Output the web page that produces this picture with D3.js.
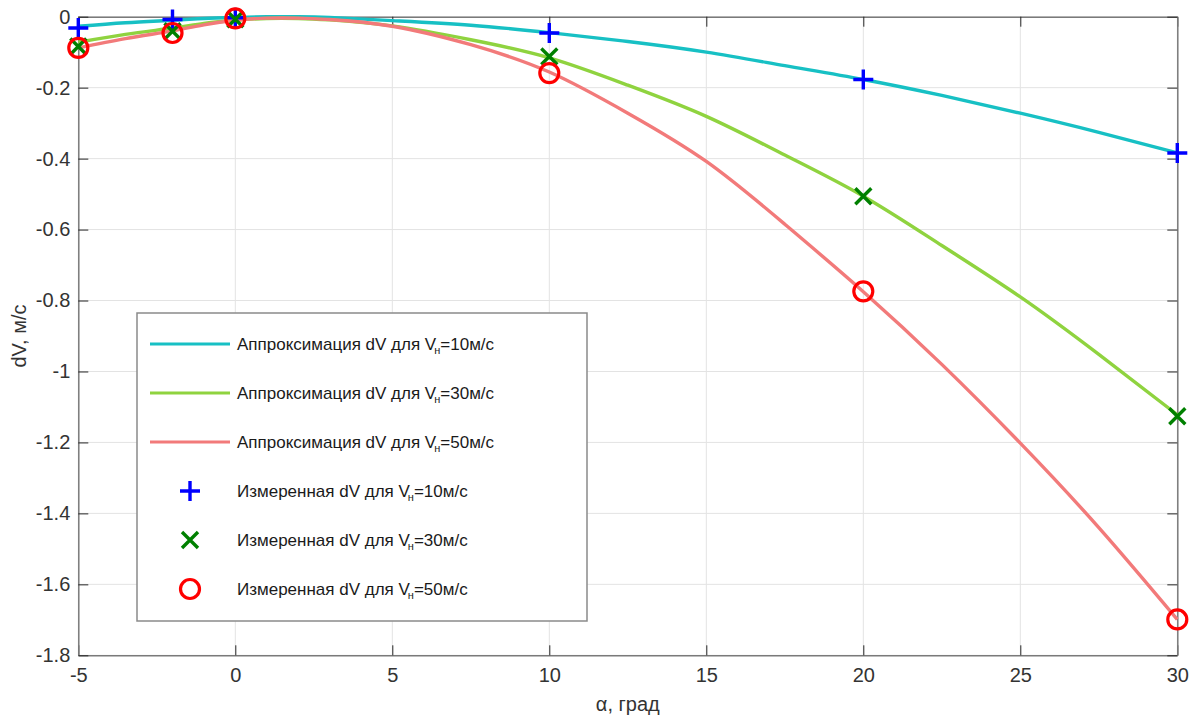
<!DOCTYPE html>
<html>
<head>
<meta charset="utf-8">
<script src="https://cdn.jsdelivr.net/npm/d3@7/dist/d3.min.js"></script>
<style>
  html, body { margin: 0; padding: 0; background: #fff; }
  svg { display: block; font-family: "Liberation Sans", Arial, Helvetica, sans-serif; }
</style>
</head>
<body>
<svg id="chart" width="1198" height="720"></svg>
<script>
// Angle of attack values for the measured points, grad
const alphaMeasured = [-5, -2, 0, 10, 20, 30];
// Measured dV, m/s
const dv10Measured = [-0.032, -0.008, -0.003, -0.046, -0.177, -0.384];
const dv30Measured = [-0.084, -0.041, -0.007, -0.112, -0.506, -1.126];
const dv50Measured = [-0.088, -0.046, -0.005, -0.159, -0.774, -1.699];

// Approximation curves sampled along alpha
const alphaFit = [-5, -3.5, -2, -1, 0, 1, 2, 3, 5, 7.5, 10, 12.5, 15, 17.5, 20, 22.5, 25, 27.5, 30];
const dv10Fit = [-0.027, -0.017, -0.010, -0.005, -0.002, 0, 0, -0.002, -0.011, -0.024, -0.045, -0.070, -0.100, -0.138, -0.177, -0.222, -0.272, -0.326, -0.384];
const dv30Fit = [-0.072, -0.050, -0.032, -0.019, -0.010, -0.005, -0.005, -0.009, -0.026, -0.065, -0.116, -0.193, -0.281, -0.390, -0.506, -0.645, -0.790, -0.952, -1.122];
const dv50Fit = [-0.088, -0.062, -0.040, -0.023, -0.010, -0.004, -0.004, -0.008, -0.027, -0.079, -0.156, -0.272, -0.408, -0.585, -0.775, -0.980, -1.202, -1.440, -1.699];

// Tick labels
const xTickValues = [-5, 0, 5, 10, 15, 20, 25, 30];
const xTickLabels = ["-5", "0", "5", "10", "15", "20", "25", "30"];
const yTickValues = [0, -0.2, -0.4, -0.6, -0.8, -1, -1.2, -1.4, -1.6, -1.8];
const yTickLabels = ["0", "-0.2", "-0.4", "-0.6", "-0.8", "-1", "-1.2", "-1.4", "-1.6", "-1.8"];

const speeds = ["10", "30", "50"];
const fitColors = ["#17c0c4", "#8fd33f", "#f27a7a"];
const markerColors = ["#0000ff", "#008000", "#ff0000"];

const fontFamily = '"Liberation Sans", Arial, Helvetica, sans-serif';
const svg = d3.select("#chart");
const plotLeft = 78.3, plotRight = 1177.3, plotTop = 16.7, plotBottom = 655.3;

const x = d3.scaleLinear().domain([-5, 30]).range([plotLeft, plotRight]);
const y = d3.scaleLinear().domain([-1.8, 0]).range([plotBottom, plotTop]);

// Grid
const grid = svg.append("g").attr("class", "grid");
grid.selectAll("line.gx").data(xTickValues).join("line")
  .attr("x1", d => x(d)).attr("x2", d => x(d))
  .attr("y1", plotTop).attr("y2", plotBottom)
  .attr("stroke", "#e3e3e3").attr("stroke-width", 1);
grid.selectAll("line.gy").data(yTickValues).join("line")
  .attr("x1", plotLeft).attr("x2", plotRight)
  .attr("y1", d => y(d)).attr("y2", d => y(d))
  .attr("stroke", "#e3e3e3").attr("stroke-width", 1);

// Axes with inward ticks on all four sides
const axisColor = "#7a7a7a";
const labelColor = "#333";
function styleAxis(g, showLabels) {
  g.attr("font-family", fontFamily);
  g.select(".domain").attr("stroke", axisColor).attr("stroke-width", 1.5);
  g.selectAll(".tick line").attr("stroke", "#262626").attr("stroke-width", 1);
  g.selectAll(".tick text").attr("fill", labelColor).attr("font-size", 20)
    .style("display", showLabels ? null : "none");
}
const xAxisBottom = d3.axisBottom(x).tickValues(xTickValues)
  .tickFormat((d, i) => xTickLabels[i]).tickSizeInner(-10).tickSizeOuter(0).tickPadding(13);
const xAxisTop = d3.axisTop(x).tickValues(xTickValues)
  .tickFormat(() => "").tickSizeInner(-10).tickSizeOuter(0);
const yAxisLeft = d3.axisLeft(y).tickValues(yTickValues)
  .tickFormat((d, i) => yTickLabels[i]).tickSizeInner(-10).tickSizeOuter(0).tickPadding(8);
const yAxisRight = d3.axisRight(y).tickValues(yTickValues)
  .tickFormat(() => "").tickSizeInner(-10).tickSizeOuter(0);

svg.append("g").attr("transform", `translate(0,${plotBottom})`).call(xAxisBottom).call(g => styleAxis(g, true));
svg.append("g").attr("transform", `translate(0,${plotTop})`).call(xAxisTop).call(g => styleAxis(g, false));
svg.append("g").attr("transform", `translate(${plotLeft},0)`).call(yAxisLeft).call(g => styleAxis(g, true));
svg.append("g").attr("transform", `translate(${plotRight},0)`).call(yAxisRight).call(g => styleAxis(g, false));

// Axis titles
svg.append("text").attr("x", (plotLeft + plotRight) / 2).attr("y", 711)
  .attr("text-anchor", "middle").attr("font-size", 20).attr("fill", labelColor)
  .text("α, град");
svg.append("text").attr("transform", `translate(26,${(plotTop + plotBottom) / 2}) rotate(-90)`)
  .attr("text-anchor", "middle").attr("font-size", 20).attr("fill", labelColor)
  .text("dV, м/с");

// Approximation curves
const fits = [dv10Fit, dv30Fit, dv50Fit];
const line = d3.line().x(d => x(d[0])).y(d => y(d[1])).curve(d3.curveNatural);
const plot = svg.append("g");
fits.forEach((vals, i) => {
  plot.append("path")
    .datum(alphaFit.map((a, j) => [a, vals[j]]))
    .attr("d", line)
    .attr("fill", "none")
    .attr("stroke", fitColors[i])
    .attr("stroke-width", 3.4);
});

// Marker shapes
function drawPlus(g, cx, cy, color) {
  g.append("path").attr("d", `M${cx - 10},${cy}H${cx + 10}M${cx},${cy - 10}V${cy + 10}`)
    .attr("stroke", color).attr("stroke-width", 3.4).attr("fill", "none");
}
function drawCross(g, cx, cy, color) {
  const r = 8;
  g.append("path").attr("d", `M${cx - r},${cy - r}L${cx + r},${cy + r}M${cx - r},${cy + r}L${cx + r},${cy - r}`)
    .attr("stroke", color).attr("stroke-width", 3.4).attr("fill", "none");
}
function drawCircle(g, cx, cy, color) {
  g.append("circle").attr("cx", cx).attr("cy", cy).attr("r", 9.5)
    .attr("stroke", color).attr("stroke-width", 3.2).attr("fill", "none");
}
const markerFns = [drawPlus, drawCross, drawCircle];
const measured = [dv10Measured, dv30Measured, dv50Measured];
measured.forEach((vals, i) => {
  const g = plot.append("g");
  alphaMeasured.forEach((a, j) => markerFns[i](g, x(a), y(vals[j]), markerColors[i]));
});

// Legend
const lg = svg.append("g");
lg.append("rect").attr("x", 137).attr("y", 313).attr("width", 450).attr("height", 308)
  .attr("fill", "#fff").attr("stroke", "#8a8a8a").attr("stroke-width", 1.5);

function legendLabel(prefix, speed, ty) {
  const t = lg.append("text").attr("x", 237).attr("y", ty)
    .attr("font-size", 17).attr("fill", "#1a1a1a");
  t.append("tspan").text(prefix + " V");
  t.append("tspan").attr("font-size", 11).attr("dx", -2).attr("dy", 4).text("н");
  t.append("tspan").attr("dy", -4).text("=" + speed + "м/с");
}
const rowY = [344, 393, 442, 491, 540, 589];
speeds.forEach((s, i) => {
  lg.append("line").attr("x1", 150).attr("x2", 230).attr("y1", rowY[i]).attr("y2", rowY[i])
    .attr("stroke", fitColors[i]).attr("stroke-width", 3.2);
  legendLabel("Аппроксимация dV для", s, rowY[i] + 6);
});
speeds.forEach((s, i) => {
  markerFns[i](lg, 190, rowY[i + 3], markerColors[i]);
  legendLabel("Измеренная dV для", s, rowY[i + 3] + 6);
});
</script>
</body>
</html>
